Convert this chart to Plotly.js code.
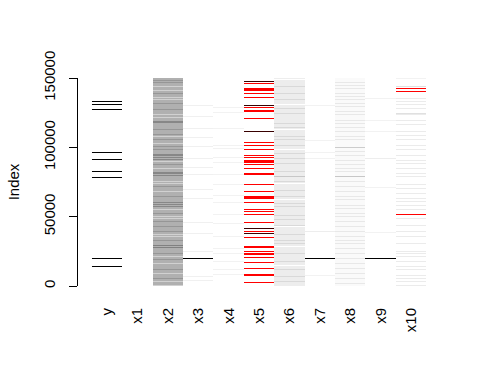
<!DOCTYPE html>
<html><head><meta charset="utf-8">
<script src="https://cdn.plot.ly/plotly-3.0.1.min.js"></script>
<style>html,body{margin:0;padding:0;background:#fff}#chart{width:480px;height:384px}</style>
</head><body><div id="chart"></div>
<script>
// variables (columns) of the matrix plot
const variables = ['y','x1','x2','x3','x4','x5','x6','x7','x8','x9','x10'];
const yTickVals = [0, 50000, 100000, 150000];
const yTickText = ['0', '50000', '100000', '150000'];
const nRows = 150000;

// typical grey level (0 = white, 1 = black) of rows that are not listed below
const baseLevel = [0, 0, 0.31, 0, 0, 0, 0.07, 0, 0.02, 0, 0];

// y: rows with high values
const yIdx = [132700,131000,127400,96400,91500,82700,78600,20000,14200];
const yLvl = [1,1,1,1,1,1,1,1,1];

// x2: darker and lighter bands
const x2DarkIdx = [148050,146610,138960,131750,127430,118480,117760,113000,109610,105290,100960,98080,94970,93750,92520,91370,87260,81990,80770,79540,71610,64400,60070,58920,57690,52430,46370,42760,39160,33170,28850,27910,23580,18750,11540,5550];
const x2DarkLvl = [0.41,0.41,0.41,0.41,0.41,0.47,0.47,0.41,0.41,0.41,0.41,0.41,0.47,0.47,0.47,0.47,0.41,0.47,0.47,0.47,0.41,0.41,0.47,0.47,0.47,0.41,0.41,0.41,0.41,0.41,0.5,0.5,0.41,0.41,0.41,0.41];
const x2LightIdx = [143730,141340,136080,134640,123320,121660,107670,102910,89640,84880,75220,74060,68000,54810,49980,48820,36780,35550,21130,16370,9160,3100,720];
const x2LightLvl = [0.18,0.18,0.18,0.18,0.18,0.18,0.18,0.18,0.18,0.18,0.18,0.18,0.18,0.18,0.18,0.18,0.18,0.18,0.18,0.18,0.18,0.18,0.18];

// x3: faint rows and one high value
const x3Idx = [129810,121880,113720,107230,100460,91590,85600,80050,69950,63250,45650,38000,24520,6710,3820,20000];
const x3Lvl = [0.06,0.06,0.06,0.06,0.06,0.06,0.06,0.06,0.06,0.06,0.06,0.06,0.06,0.06,0.06,1];

// x4: faint rows
const x4Idx = [128580,125480,113720,101470,99010,92520,89420,80550,73340,65120,60070,51920,45220,35550,27190,23580,17520,12040,8440];
const x4Lvl = [0.05,0.05,0.05,0.05,0.05,0.05,0.05,0.05,0.05,0.05,0.05,0.05,0.05,0.05,0.05,0.05,0.05,0.05,0.05];

// x5: missing rows (tone 0 = red, 1 = dark)
const x5MissIdx = [147620,146180,142280,140840,141560,138960,136080,130030,128580,125700,126420,120940,111560,103630,101470,98080,94260,92810,89930,90650,89210,87480,84880,80050,80770,73340,68290,64690,62960,63680,60360,55020,53370,51920,45940,41320,39660,38000,35120,27620,28340,25020,22360,23080,20700,17090,12760,7930,8650,2670];
const x5MissTone = [1,0,0,0,0,0,0,1,0,0,0,0,1,0,0,0,0,0,0,0,0,0,0,0,0,0,0,0,0,0,0,0,0,0,0,1,0,1,0,0,0,0,0,0,0,0,0,0,0,0];

// x6: light band texture
const x6DarkIdx = [143730,138960,134640,128150,124040,117330,114450,107670,105290,101680,95700,92090,88480,82430,78610,75220,69230,64400,59640,57190,51200,47600,43990,36780,33170,30790,23580,17520,11540,6710,3100];
const x6DarkLvl = [0.15,0.15,0.15,0.15,0.15,0.15,0.15,0.15,0.15,0.15,0.15,0.15,0.15,0.15,0.22,0.15,0.15,0.15,0.15,0.15,0.15,0.15,0.15,0.15,0.15,0.15,0.15,0.15,0.15,0.15,0.15];
const x6WhiteIdx = [148560,130530,112500,98080,74060,62020,42760,28340,15140];

// x7: faint rows and one high value
const x7Idx = [129810,104570,96420,91590,39160,7430,20000];
const x7Lvl = [0.05,0.05,0.05,0.05,0.07,0.05,1];

// x8: dotted light rows
const x8Idx = [146610,144950,142570,138960,136510,134640,131750,129300,125700,123320,119710,117330,114450,111270,107670,105290,100020,96850,94470,90860,87260,84880,82430,78610,75220,71610,68000,64400,62020,58410,56030,52430,49980,46370,42760,39160,35550,33170,30790,27190,23580,19980,16370,12760,9160,5550,1950];
const x8Lvl = [0.09,0.09,0.09,0.09,0.09,0.09,0.09,0.09,0.09,0.09,0.09,0.09,0.09,0.09,0.09,0.09,0.2,0.09,0.09,0.09,0.09,0.09,0.09,0.22,0.09,0.09,0.09,0.09,0.09,0.09,0.09,0.09,0.09,0.09,0.09,0.09,0.09,0.09,0.09,0.09,0.09,0.09,0.09,0.09,0.09,0.09,0.09];

// x9: faint rows and one high value
const x9Idx = [135360,119710,111060,91590,70890,38440,20000];
const x9Lvl = [0.05,0.05,0.05,0.07,0.05,0.05,1];

// x10: light rows and missing rows
const x10Idx = [149780,143730,135360,132910,130530,128150,124540,123320,119710,116110,111270,108890,105290,101680,98080,94470,90860,88480,84880,81270,78820,72840,70460,66850,63240,60790,58410,54810,48820,43990,39160,35550,30790,24740,23580,21130,17520,13920,11540,7930,5550,3100,720];
const x10Lvl = [0.05,0.12,0.08,0.08,0.08,0.08,0.12,0.08,0.08,0.08,0.08,0.08,0.08,0.08,0.08,0.08,0.08,0.08,0.08,0.08,0.08,0.08,0.08,0.08,0.08,0.08,0.08,0.08,0.08,0.08,0.08,0.08,0.08,0.08,0.08,0.08,0.08,0.08,0.08,0.08,0.08,0.08,0.08];
const x10MissIdx = [142570,140410,51920];

// ---- build the matrices the heatmap traces need ----
const ROWS = 208, BIN = nRows / ROWS;
const binOf = v => Math.min(ROWS - 1, Math.max(0, Math.floor(v / BIN)));
const grey = [], miss = [];
for (let b = 0; b < ROWS; b++) { grey.push(baseLevel.slice()); miss.push(variables.map(() => null)); }
function paint(col, idx, lvl) { idx.forEach((v, k) => { const b = binOf(v); grey[b][col] = Math.max(grey[b][col], lvl[k]); }); }
function setLevel(col, idx, lvl) { idx.forEach((v, k) => { grey[binOf(v)][col] = lvl ? lvl[k] : 0; }); }
function missing(col, idx, tone) { idx.forEach((v, k) => { const b = binOf(v); miss[b][col] = tone ? tone[k] : 0; }); }
paint(0, yIdx, yLvl);
setLevel(2, x2LightIdx, x2LightLvl);
paint(2, x2DarkIdx, x2DarkLvl);
paint(3, x3Idx, x3Lvl);
paint(4, x4Idx, x4Lvl);
missing(5, x5MissIdx, x5MissTone);
setLevel(6, x6WhiteIdx, null);
paint(6, x6DarkIdx, x6DarkLvl);
paint(7, x7Idx, x7Lvl);
paint(8, x8Idx, x8Lvl);
paint(9, x9Idx, x9Lvl);
paint(10, x10Idx, x10Lvl);
missing(10, x10MissIdx, null);
const rowCenters = Array.from({length: ROWS}, (_, b) => (b + 0.5) * BIN);
const colPos = variables.map((_, i) => i);

const font = 'Liberation Sans, Arial, sans-serif';
const traces = [
  {type: 'heatmap', x: colPos, y: rowCenters, z: grey, zmin: 0, zmax: 1,
   colorscale: [[0, '#ffffff'], [1, '#000000']], showscale: false, hoverinfo: 'skip', zsmooth: false},
  {type: 'heatmap', x: colPos, y: rowCenters, z: miss, zmin: 0, zmax: 1,
   colorscale: [[0, '#ff0000'], [1, '#380000']], showscale: false, hoverinfo: 'skip', zsmooth: false}
];
const layout = {
  width: 480, height: 384,
  margin: {l: 78, r: 40, t: 78, b: 98},
  paper_bgcolor: '#ffffff', plot_bgcolor: '#ffffff',
  font: {family: font, size: 15, color: '#000'},
  showlegend: false,
  xaxis: {range: [-0.96, 10.948], tickvals: colPos, ticktext: variables, tickangle: -90,
          showgrid: false, zeroline: false, showline: false, ticks: '', ticklabelstandoff: 18,
          tickfont: {family: font, size: 15, color: '#000'}, fixedrange: true},
  yaxis: {range: [0, nRows], tickvals: yTickVals, ticktext: yTickText, tickangle: -90,
          showgrid: false, zeroline: false, showline: true, linecolor: '#000', linewidth: 1,
          ticks: 'outside', ticklen: 8, tickcolor: '#000', tickwidth: 1, ticklabelstandoff: 8,
          tickfont: {family: font, size: 15, color: '#000'},
          title: {text: 'Index', font: {family: font, size: 15, color: '#000'}, standoff: 17},
          automargin: false, fixedrange: true}
};
Plotly.newPlot('chart', traces, layout, {staticPlot: true, displayModeBar: false});
</script></body></html>
